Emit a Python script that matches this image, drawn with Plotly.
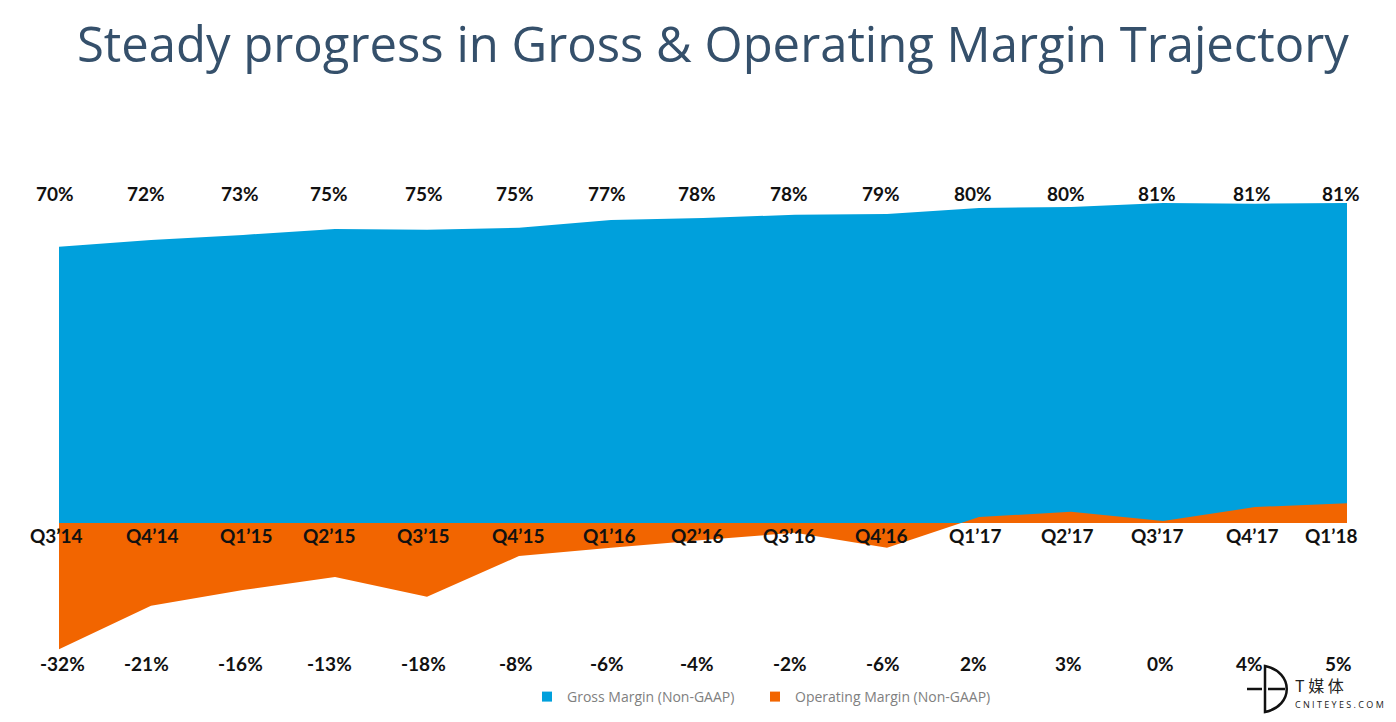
import plotly.graph_objects as go

quarters = ["Q3’14","Q4’14","Q1’15","Q2’15","Q3’15","Q4’15","Q1’16","Q2’16","Q3’16","Q4’16","Q1’17","Q2’17","Q3’17","Q4’17","Q1’18"]
gross = [69.9,71.6,72.9,74.4,74.2,74.7,76.7,77.2,78.0,78.2,79.7,80.0,81.0,80.8,81.0]
operating = [-32,-21,-17,-13.7,-18.7,-8.4,-6.3,-4.3,-2.5,-6.3,1.5,2.8,0.5,4,5]
gross_labels = ["70%","72%","73%","75%","75%","75%","77%","78%","78%","79%","80%","80%","81%","81%","81%"]
op_labels = ["-32%","-21%","-16%","-13%","-18%","-8%","-6%","-4%","-2%","-6%","2%","3%","0%","4%","5%"]

# label nudges in pixels (layout only)
top_shift = [-4,-5,-3,-6,-3,-4,-4,-6,-6,-6,-6,-5,-6,-3,-6]
mid_shift = [-3,1,3,-6,-4,-1,-2,-6,-6,-6,-4,-4,-6,-3,-16]
low_shift = [3,-5,-3,-6,-4,-3,-4,-6,-5,-4,-6,-3,-3,-6,-9]

BLUE = "#00a0dc"
ORANGE = "#f26500"
x = list(range(len(quarters)))

W, H = 1388, 714
L, R, T, B = 51, 49, 142, 2

fig = go.Figure()
fig.add_trace(go.Scatter(x=x, y=gross, mode="lines", fill="tozeroy", fillcolor=BLUE,
                         line=dict(color=BLUE, width=0), showlegend=False))
fig.add_trace(go.Scatter(x=x, y=operating, mode="lines", fill="tozeroy", fillcolor=ORANGE,
                         line=dict(color=ORANGE, width=0), showlegend=False))
fig.add_trace(go.Scatter(x=[None], y=[None], mode="markers", name="Gross Margin (Non-GAAP)",
                         marker=dict(symbol="square", size=10, color=BLUE), legend="legend"))
fig.add_trace(go.Scatter(x=[None], y=[None], mode="markers", name="Operating Margin (Non-GAAP)",
                         marker=dict(symbol="square", size=10, color=ORANGE), legend="legend2"))

font = dict(family="Lato, Open Sans, sans-serif", size=19, color="#111111")
for i in x:
    fig.add_annotation(x=i, y=83.5, text=f"<b>{gross_labels[i]}</b>", showarrow=False, font=font, xshift=top_shift[i])
    fig.add_annotation(x=i, y=-3.3, text=f"<b>{quarters[i]}</b>", showarrow=False, font=font, xshift=mid_shift[i])
    fig.add_annotation(x=i, y=-35.7, text=f"<b>{op_labels[i]}</b>", showarrow=False, font=font, xshift=low_shift[i])

# watermark, placed in page pixels
def px(v):
    return (v - 8 - L) / (W - L - R)
def py(v):
    return 1 - (v - 8 - T) / (H - T - B)

logo = dict(color="#111111", width=2.5)
fig.add_shape(type="path", xref="paper", yref="paper", line=logo,
              path=f"M {px(1265)} {py(666)} C {px(1294)} {py(672)}, {px(1294)} {py(706)}, {px(1265)} {py(712)} Z")
fig.add_shape(type="line", xref="paper", yref="paper", line=logo, x0=px(1247), x1=px(1262), y0=py(689), y1=py(689))
fig.add_shape(type="line", xref="paper", yref="paper", line=logo, x0=px(1268), x1=px(1285), y0=py(689), y1=py(689))
fig.add_annotation(xref="paper", yref="paper", x=px(1294), y=py(685), xanchor="left", yanchor="middle", showarrow=False,
                   borderpad=0, text="T 媒 体", font=dict(family="Noto Sans CJK SC", size=16, color="#222222"))
fig.add_annotation(xref="paper", yref="paper", x=px(1294), y=py(704), xanchor="left", yanchor="middle", showarrow=False,
                   borderpad=0, text="C N I T E Y E S . C O M", font=dict(family="Open Sans", size=9, color="#222222"))

legend_font = dict(family="Open Sans, sans-serif", size=14, color="#808080")
fig.update_layout(
    width=W, height=H, paper_bgcolor="white", plot_bgcolor="white",
    margin=dict(l=L, r=R, t=T, b=B),
    title=dict(text="Steady progress in Gross & Operating Margin Trajectory", x=69/W, xanchor="left", y=0.948, yanchor="middle",
               font=dict(family="Open Sans, sans-serif", size=49, color="#35506b")),
    xaxis=dict(visible=False, range=[0, 14]),
    yaxis=dict(visible=False, range=[-49.9, 94.4]),
    showlegend=True,
    legend=dict(orientation="h", x=px(527), xanchor="left", y=py(681), yanchor="top",
                itemwidth=30, bgcolor="rgba(0,0,0,0)", font=legend_font),
    legend2=dict(orientation="h", x=px(755), xanchor="left", y=py(681), yanchor="top",
                 itemwidth=30, bgcolor="rgba(0,0,0,0)", font=legend_font),
)
fig.write_html("out.html")
